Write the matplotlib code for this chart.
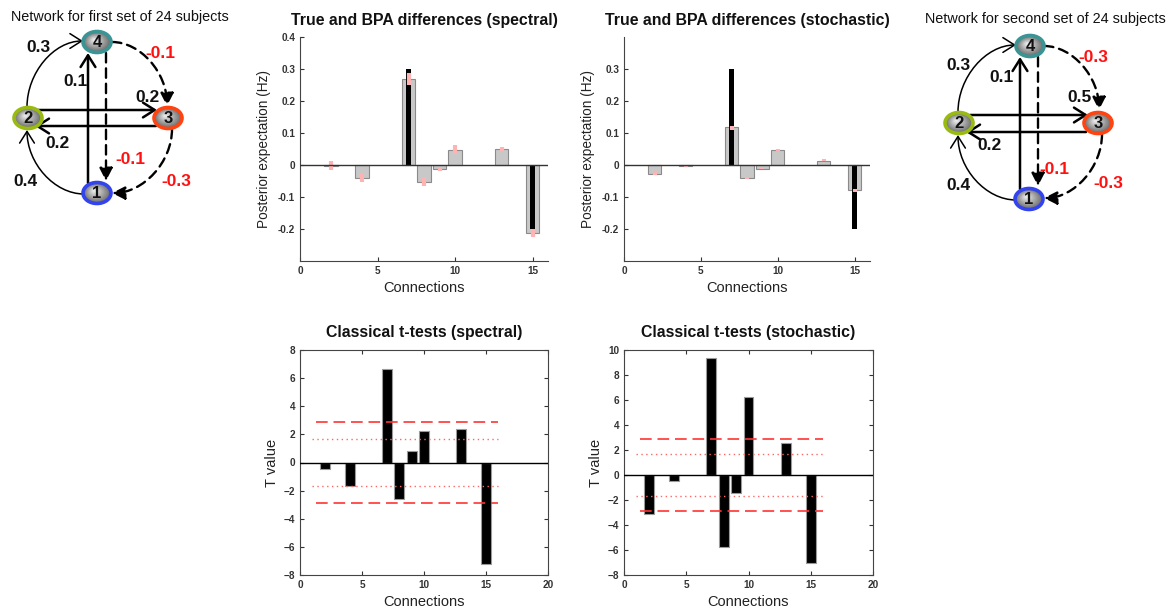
import matplotlib
matplotlib.use('Agg')
import matplotlib.pyplot as plt
from matplotlib.patches import Ellipse, FancyArrowPatch
from matplotlib.path import Path
import numpy as np

plt.rcParams['font.family'] = ['Liberation Sans', 'DejaVu Sans']

# ---------------- data ----------------
connections = [2, 4, 7, 8, 9, 10, 13, 15]
true_conn = [7, 15]
true_spectral = [0.30, -0.20]
true_stochastic = [0.30, -0.20]

bpa_spectral = [-0.003, -0.042, 0.268, -0.053, -0.013, 0.048, 0.051, -0.213]
ci_mid_spectral = [-0.002, -0.041, 0.269, -0.052, -0.012, 0.048, 0.050, -0.212]
ci_half_spectral = [0.015, 0.012, 0.018, 0.015, 0.006, 0.014, 0.007, 0.012]

bpa_stochastic = [-0.028, -0.002, 0.118, -0.042, -0.012, 0.048, 0.014, -0.077]
ci_mid_stochastic = [-0.026, -0.002, 0.116, -0.040, -0.011, 0.047, 0.015, -0.079]
ci_half_stochastic = [0.004, 0.003, 0.006, 0.004, 0.003, 0.004, 0.004, 0.005]

t_spectral = [-0.47, -1.66, 6.63, -2.63, 0.85, 2.25, 2.35, -7.23]
t_stochastic = [-3.10, -0.51, 9.36, -5.72, -1.42, 6.23, 2.54, -7.06]
t_crit_strict = 2.87
t_crit_lenient = 1.70

# network edge weights (order: 2->4, 1->2, 1->4, 4->1, 2->3, 3->2, 4->3, 3->1)
net1_weights = [0.3, 0.4, 0.1, -0.1, 0.2, 0.2, -0.1, -0.3]
net2_weights = [0.3, 0.4, 0.1, -0.1, 0.5, 0.2, -0.3, -0.3]
net1_title = 'Network for first set of 24 subjects'
net2_title = 'Network for second set of 24 subjects'

# ---------------- figure ----------------
W, H = 1174, 611
fig = plt.figure(figsize=(W / 100, H / 100), dpi=100)

# overlay axes in pixel coordinates for the network diagrams
ov = fig.add_axes([0, 0, 1, 1])
ov.set_xlim(0, W)
ov.set_ylim(H, 0)
ov.axis('off')

node_colors = {'1': '#3344ee', '2': '#99bb11', '3': '#ff4411', '4': '#3a9494'}


def draw_node(x, y, lab):
    w, h = 28, 21
    for f in np.linspace(1.0, 0.12, 12):
        shade = 0.42 + 0.55 * (1 - f)
        ov.add_patch(Ellipse((x - 3 * (1 - f), y - 2.5 * (1 - f)), w * f, h * f,
                             facecolor=str(min(shade, 0.97)), edgecolor='none', zorder=5))
    ov.add_patch(Ellipse((x, y), w, h, facecolor='none',
                         edgecolor=node_colors[lab], lw=2.6, zorder=6))
    ov.text(x, y + 0.5, lab, ha='center', va='center', fontsize=12,
            fontweight='bold', color='#111111', zorder=7)


def arrow(p0, p1, corner=None, dashed=False):
    if dashed:
        style = '-|>,head_length=0.55,head_width=0.28'
        ls = (0, (4, 2.5))
        lw = 1.7
    else:
        style = '->,head_length=0.6,head_width=0.38'
        ls = '-'
        lw = 1.1 if corner is not None else 1.8
    kw = dict(arrowstyle=style, mutation_scale=14, lw=lw, linestyle=ls,
              color='black', zorder=3)
    if corner is None:
        patch = FancyArrowPatch(p0, p1, shrinkA=0, shrinkB=0, **kw)
    else:
        k = 0.52
        a, b, c = np.array(p0, float), np.array(p1, float), np.array(corner, float)
        verts = [a, a + k * (c - a), b + k * (c - b), b]
        path = Path(verts, [Path.MOVETO, Path.CURVE4, Path.CURVE4, Path.CURVE4])
        patch = FancyArrowPatch(path=path, **kw)
    ov.add_patch(patch)


def draw_network(nodes, edges, labels, weights, title, title_xy):
    ov.text(title_xy[0], title_xy[1], title, ha='center', va='center',
            fontsize=10.4, color='#111111')
    for (p0, p1, corner, dashed) in edges:
        arrow(p0, p1, corner, dashed)
    for lab, (x, y) in nodes.items():
        draw_node(x, y, lab)
    for (x, y), wgt in zip(labels, weights):
        col = '#ff1111' if wgt < 0 else '#111111'
        ov.text(x, y, f'{wgt:g}', ha='center', va='center', fontsize=12.5,
                fontweight='bold', color=col, zorder=8)


nodes1 = {'4': (97, 42), '2': (28, 118), '3': (168, 118), '1': (97, 193)}
edges1 = [((27, 107), (83, 41), (27, 41), False),
          ((84, 194), (27, 130), (27, 194), False),
          ((88, 183), (88, 53), None, False),
          ((106, 53), (106, 181), None, True),
          ((38, 110), (157, 110), None, False),
          ((156, 126), (35, 126), None, False),
          ((112, 42), (167, 106), (167, 42), True),
          ((172, 129), (112, 193), (172, 193), True)]
labels1 = [(38, 47), (25, 181), (75, 82), (130, 160), (147, 98), (57, 143),
           (160, 53), (176, 181)]
draw_network(nodes1, edges1, labels1, net1_weights, net1_title, (120, 17))

nodes2 = {'4': (1030, 46), '2': (959, 123), '3': (1098, 123), '1': (1029, 199)}
edges2 = [((958, 112), (1016, 45), (958, 45), False),
          ((1016, 200), (958, 135), (958, 200), False),
          ((1020, 189), (1020, 57), None, False),
          ((1038, 57), (1038, 186), None, True),
          ((970, 115), (1088, 115), None, False),
          ((1086, 132), (966, 132), None, False),
          ((1044, 46), (1099, 110), (1099, 46), True),
          ((1102, 134), (1044, 198), (1102, 198), True)]
labels2 = [(958, 65), (958, 185), (1002, 77), (1054, 170), (1080, 98), (990, 145),
           (1093, 57), (1108, 184)]
draw_network(nodes2, edges2, labels2, net2_weights, net2_title, (1045, 19))


# ---------------- chart axes ----------------
def px_axes(x0, y0, x1, y1):
    return fig.add_axes([x0 / W, 1 - y1 / H, (x1 - x0) / W, (y1 - y0) / H])


tick_kw = dict(direction='in', length=3, width=0.8, labelsize=7.2,
               colors='#333333', labelcolor='#333333')
title_kw = dict(fontsize=11.4, fontweight='bold', color='#111111', pad=9)
spine_col = '#444444'


def style_ticks(ax):
    ax.tick_params(**tick_kw)
    for lab in ax.get_xticklabels() + ax.get_yticklabels():
        lab.set_fontweight('bold')


def bpa_panel(ax, bpa, mid, half, true_vals, title, yticks):
    ax.bar(connections, bpa, width=0.85, color='#c8c8c8', edgecolor='#8a8a8a',
           lw=0.8, zorder=2)
    ax.bar(true_conn, true_vals, width=0.3, color='black', zorder=3)
    mid = np.array(mid)
    half = np.array(half)
    ax.vlines(connections, mid - half, mid + half, colors='#ffb3b3', lw=3,
              zorder=4)
    ax.axhline(0, color='#333333', lw=1.0, zorder=5)
    ax.set_xlim(0, 16)
    ax.set_ylim(-0.3, 0.4)
    ax.set_xticks([0, 5, 10, 15])
    ax.set_yticks(yticks)
    ax.set_yticklabels([f'{v:g}' for v in yticks])
    for s in ['top', 'right']:
        ax.spines[s].set_visible(False)
    for s in ['left', 'bottom']:
        ax.spines[s].set_color(spine_col)
    style_ticks(ax)
    ax.set_title(title, **title_kw)
    ax.set_xlabel('Connections', fontsize=10.5, color='#222222', labelpad=4)
    ax.set_ylabel('Posterior expectation (Hz)', fontsize=9.8, color='#222222',
                  labelpad=5)


def t_panel(ax, tvals, title, ylim):
    ax.bar(connections, tvals, width=0.8, color='black', edgecolor='#9a9a9a',
           lw=0.8, zorder=2)
    ax.axhline(0, color='black', lw=1.0, zorder=3)
    for sgn in (1, -1):
        ax.hlines(sgn * t_crit_strict, 1.3, 16.0, colors='#ff3333', lw=1.2,
                  linestyles=(0, (7, 3.5)), zorder=4)
        ax.hlines(sgn * t_crit_lenient, 1.0, 16.0, colors='#ff6666', lw=1.0,
                  linestyles=(0, (1, 2.5)), zorder=4)
    ax.set_xlim(0, 20)
    ax.set_ylim(*ylim)
    ax.set_xticks([0, 5, 10, 15, 20])
    ax.set_yticks(np.arange(ylim[0], ylim[1] + 1, 2))
    for s in ax.spines.values():
        s.set_color(spine_col)
    ax.tick_params(top=True, right=True)
    style_ticks(ax)
    ax.set_title(title, **title_kw)
    ax.set_xlabel('Connections', fontsize=10.5, color='#222222', labelpad=4)
    ax.set_ylabel('T value', fontsize=10.5, color='#222222', labelpad=3)


ax1 = px_axes(300, 37, 548, 261)
bpa_panel(ax1, bpa_spectral, ci_mid_spectral, ci_half_spectral, true_spectral,
          'True and BPA differences (spectral)', [-0.2, -0.1, 0, 0.1, 0.2, 0.3, 0.4])

ax2 = px_axes(624, 37, 870, 261)
bpa_panel(ax2, bpa_stochastic, ci_mid_stochastic, ci_half_stochastic,
          true_stochastic, 'True and BPA differences (stochastic)',
          [-0.2, -0.1, 0, 0.1, 0.2, 0.3])

ax3 = px_axes(300, 350, 548, 575)
t_panel(ax3, t_spectral, 'Classical t-tests (spectral)', (-8, 8))

ax4 = px_axes(624, 350, 873, 575)
t_panel(ax4, t_stochastic, 'Classical t-tests (stochastic)', (-8, 10))

fig.savefig('out.png', dpi=100)
